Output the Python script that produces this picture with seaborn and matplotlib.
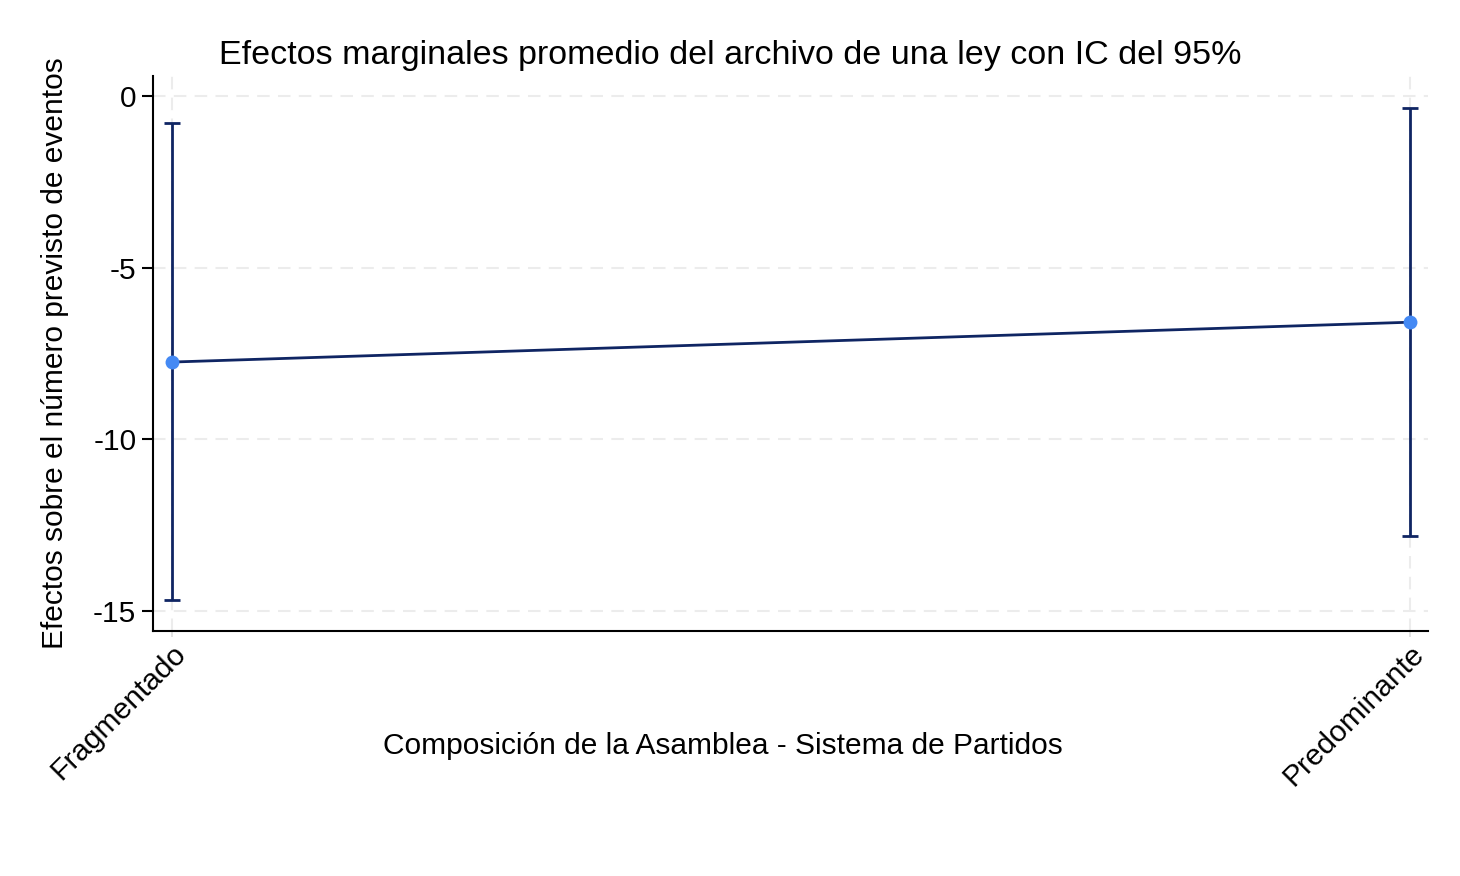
import pandas as pd
import matplotlib.pyplot as plt
import seaborn as sns

categories = ["Fragmentado", "Predominante"]
effects = [-7.75, -6.59]
ci_low = [-14.69, -12.80]
ci_high = [-0.79, -0.35]
y_ticks = [0, -5, -10, -15]

df = pd.DataFrame({"pos": range(len(categories)), "efecto": effects,
                   "low": ci_low, "high": ci_high})

sns.set_style("white")
plt.rcParams["font.family"] = ["Liberation Sans", "DejaVu Sans"]
plt.rcParams["text.color"] = "black"
plt.rcParams["axes.labelcolor"] = "black"
plt.rcParams["xtick.color"] = "black"
plt.rcParams["ytick.color"] = "black"

fig = plt.figure(figsize=(14.6, 8.76), dpi=100)
ax = fig.add_axes([0.1048, 0.2797, 0.8732, 0.6336])

line_col = "#0f2563"
dot_col = "#4489f4"

# intervalos de confianza
ax.errorbar(df["pos"], df["efecto"],
            yerr=[df["efecto"] - df["low"], df["high"] - df["efecto"]],
            fmt="none", ecolor=line_col, elinewidth=2, capsize=6,
            capthick=2, zorder=2)
sns.lineplot(data=df, x="pos", y="efecto", ax=ax, color=line_col,
             linewidth=2, zorder=3)
sns.scatterplot(data=df, x="pos", y="efecto", ax=ax, color=dot_col,
                s=100, edgecolor=dot_col, linewidth=0, zorder=4)

ax.set_xlim(-0.0153, 1.0145)
ax.set_ylim(-15.58, 0.58)
ax.set_yticks(y_ticks)
ax.set_yticklabels([str(t) for t in y_ticks], fontsize=21.5)
ax.set_xticks(df["pos"])
ax.set_xticklabels(categories, rotation=45, ha="right",
                   rotation_mode="anchor", fontsize=21.5)

ax.grid(True, color="#ececec", linestyle=(0, (6, 4)), linewidth=1.5)
ax.set_axisbelow(True)
for side in ["top", "right"]:
    ax.spines[side].set_visible(False)
for side in ["left", "bottom"]:
    ax.spines[side].set_color("black")
    ax.spines[side].set_linewidth(1.5)
ax.tick_params(axis="y", left=True, length=8, width=1.5, color="black", pad=4)
ax.tick_params(axis="x", bottom=True, length=4, width=1.2, color="#dddddd", pad=2,
               labelcolor="black")

ax.set_xlabel("")
ax.set_ylabel("Efectos sobre el número previsto de eventos", fontsize=21.5,
              labelpad=17)

fig.text(0.5, 0.937, "Efectos marginales promedio del archivo de una ley con IC del 95%",
         ha="center", va="center", fontsize=24.5)
fig.text(0.495, 1 - 746 / 876, "Composición de la Asamblea - Sistema de Partidos",
         ha="center", va="center", fontsize=21.5)

fig.savefig("out.png", dpi=100, facecolor="white")
plt.close(fig)
